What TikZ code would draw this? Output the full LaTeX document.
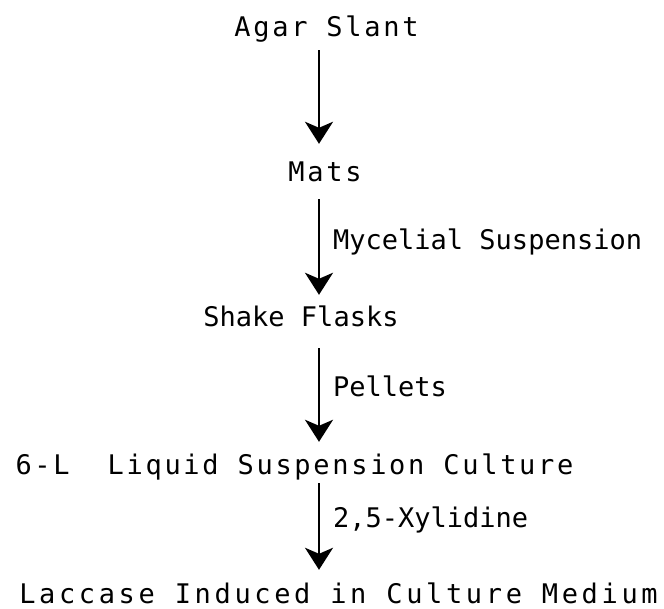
\documentclass[tikz,border=0pt]{standalone}
\usepackage{fontspec}
\usepackage{tikz}
\usetikzlibrary{arrows.meta}
\newfontfamily\typer{DejaVu Sans Mono}
\newfontfamily\typerwide[LetterSpace=10]{DejaVu Sans Mono}
\newfontfamily\typerwider[LetterSpace=13.5]{DejaVu Sans Mono}

\begin{document}
\begin{tikzpicture}[x=1pt, y=-1pt,
	stage/.style={inner sep=0, anchor=base, text height=20pt, text depth=6pt, font=\typerwide\fontsize{27}{32}\selectfont},
	stageplain/.style={stage, font=\typer\fontsize{27}{32}\selectfont},
	stagewide/.style={stage, font=\typerwider\fontsize{27}{32}\selectfont},
	agent/.style={inner sep=0, anchor=base west, font=\typer\fontsize{27}{32}\selectfont},
	flow/.style={line width=2.2pt, -{Stealth[length=22pt, width=28pt, inset=6pt]}}]
	\useasboundingbox (0, 0) rectangle (664, 609);
	\coordinate (axis) at (319, 0);
	\node[stage] (slant) at (326.5, 37) {Agar Slant};
	\node[stage] (mats) at (325, 182) {Mats};
	\node[stageplain] (flasks) at (301, 327) {Shake Flasks};
	\node[stage] (culture) at (294.5, 474) {6-L\ \ Liquid Suspension Culture};
	\node[stagewide] (laccase) at (338.5, 603) {Laccase Induced in Culture Medium};
	\draw[flow, shorten <=7pt, shorten >=18pt] (slant.south -| axis) -- (mats.north -| axis);
	\draw[flow, shorten <=11pt, shorten >=12pt] (mats.south -| axis) -- (flasks.north -| axis);
	\draw[flow, shorten <=15pt, shorten >=12pt] (flasks.south -| axis) -- (culture.north -| axis);
	\draw[flow, shorten <=3pt, shorten >=13pt] (culture.south -| axis) -- (laccase.north -| axis);
	\node[agent] (mycelial) at (333, 250) {Mycelial Suspension};
	\node[agent] (pellets) at (333, 397) {Pellets};
	\node[agent] (xylidine) at (333, 527) {2,5-Xylidine};
\end{tikzpicture}
\end{document}
